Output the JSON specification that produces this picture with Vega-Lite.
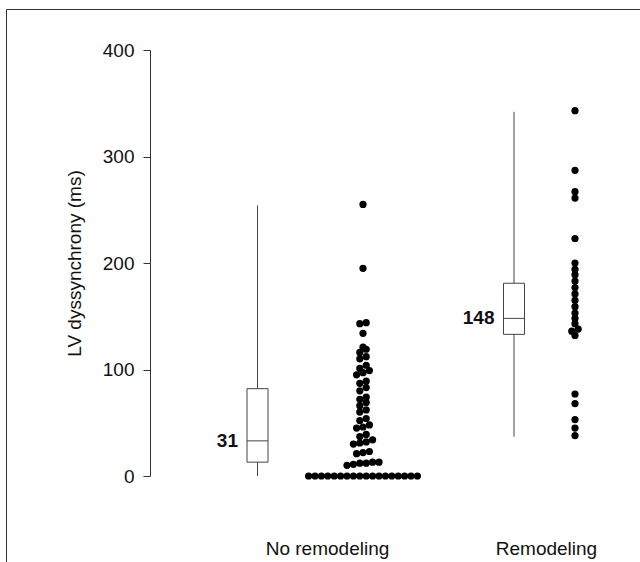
{
  "$schema": "https://vega.github.io/schema/vega-lite/v6.json",
  "width": 640,
  "height": 560,
  "autosize": "none",
  "padding": {"left": 6, "top": 9, "right": 0, "bottom": 0},
  "background": "white",
  "config": {
    "font": "Liberation Sans",
    "view": {"stroke": "#333", "strokeWidth": 1}
  },
  "datasets": {
    "dots": [
      {"group": "No remodeling", "value": 0}, {"group": "No remodeling", "value": 0}, {"group": "No remodeling", "value": 0},
      {"group": "No remodeling", "value": 0}, {"group": "No remodeling", "value": 0}, {"group": "No remodeling", "value": 0},
      {"group": "No remodeling", "value": 0}, {"group": "No remodeling", "value": 0}, {"group": "No remodeling", "value": 0},
      {"group": "No remodeling", "value": 0}, {"group": "No remodeling", "value": 0}, {"group": "No remodeling", "value": 0},
      {"group": "No remodeling", "value": 0}, {"group": "No remodeling", "value": 0}, {"group": "No remodeling", "value": 0},
      {"group": "No remodeling", "value": 0}, {"group": "No remodeling", "value": 0}, {"group": "No remodeling", "value": 0},
      {"group": "No remodeling", "value": 10}, {"group": "No remodeling", "value": 11}, {"group": "No remodeling", "value": 12},
      {"group": "No remodeling", "value": 12}, {"group": "No remodeling", "value": 13}, {"group": "No remodeling", "value": 13},
      {"group": "No remodeling", "value": 21}, {"group": "No remodeling", "value": 22}, {"group": "No remodeling", "value": 23},
      {"group": "No remodeling", "value": 30}, {"group": "No remodeling", "value": 31}, {"group": "No remodeling", "value": 32},
      {"group": "No remodeling", "value": 34}, {"group": "No remodeling", "value": 37}, {"group": "No remodeling", "value": 39},
      {"group": "No remodeling", "value": 45}, {"group": "No remodeling", "value": 46}, {"group": "No remodeling", "value": 48},
      {"group": "No remodeling", "value": 52}, {"group": "No remodeling", "value": 54}, {"group": "No remodeling", "value": 60},
      {"group": "No remodeling", "value": 62}, {"group": "No remodeling", "value": 66}, {"group": "No remodeling", "value": 69},
      {"group": "No remodeling", "value": 72}, {"group": "No remodeling", "value": 74}, {"group": "No remodeling", "value": 80},
      {"group": "No remodeling", "value": 83}, {"group": "No remodeling", "value": 87}, {"group": "No remodeling", "value": 89},
      {"group": "No remodeling", "value": 95}, {"group": "No remodeling", "value": 97}, {"group": "No remodeling", "value": 99},
      {"group": "No remodeling", "value": 101}, {"group": "No remodeling", "value": 104}, {"group": "No remodeling", "value": 110},
      {"group": "No remodeling", "value": 112}, {"group": "No remodeling", "value": 116}, {"group": "No remodeling", "value": 119},
      {"group": "No remodeling", "value": 121}, {"group": "No remodeling", "value": 134}, {"group": "No remodeling", "value": 143},
      {"group": "No remodeling", "value": 144}, {"group": "No remodeling", "value": 195}, {"group": "No remodeling", "value": 255},
      {"group": "Remodeling", "value": 343}, {"group": "Remodeling", "value": 287}, {"group": "Remodeling", "value": 267},
      {"group": "Remodeling", "value": 261}, {"group": "Remodeling", "value": 223}, {"group": "Remodeling", "value": 200},
      {"group": "Remodeling", "value": 194}, {"group": "Remodeling", "value": 189}, {"group": "Remodeling", "value": 183},
      {"group": "Remodeling", "value": 177}, {"group": "Remodeling", "value": 171}, {"group": "Remodeling", "value": 165},
      {"group": "Remodeling", "value": 159}, {"group": "Remodeling", "value": 153}, {"group": "Remodeling", "value": 148},
      {"group": "Remodeling", "value": 143}, {"group": "Remodeling", "value": 138}, {"group": "Remodeling", "value": 136},
      {"group": "Remodeling", "value": 132}, {"group": "Remodeling", "value": 77}, {"group": "Remodeling", "value": 68},
      {"group": "Remodeling", "value": 53}, {"group": "Remodeling", "value": 45}, {"group": "Remodeling", "value": 38}
    ],
    "boxes": [
      {"group": "No remodeling", "lower": 0, "q1": 13, "median": 33, "q3": 82, "upper": 254, "label": "31"},
      {"group": "Remodeling", "lower": 37, "q1": 133, "median": 148, "q3": 181, "upper": 342, "label": "148"}
    ]
  },
  "encoding": {
    "x": {
      "field": "px", "type": "quantitative",
      "scale": {"domain": [6, 646], "nice": false, "zero": false},
      "axis": {
        "orient": "bottom", "values": [327, 546],
        "labelExpr": "datum.value < 400 ? 'No remodeling' : 'Remodeling'",
        "ticks": false, "domain": false, "grid": false, "title": null,
        "labelFontSize": 19, "labelPadding": 2, "offset": -32, "labelColor": "#111",
        "labelFlush": false, "labelOverlap": false
      }
    },
    "y": {
      "field": "v", "type": "quantitative",
      "scale": {"domain": [0, 400], "range": [467, 41], "nice": false, "zero": false},
      "axis": {
        "values": [0, 100, 200, 300, 400], "grid": false, "offset": -144,
        "tickSize": 7, "tickColor": "#333", "domainColor": "#333",
        "labelFontSize": 19, "labelColor": "#111", "labelPadding": 9,
        "title": "LV dyssynchrony (ms)", "titleFontSize": 19, "titleFontWeight": "normal",
        "titleColor": "#111", "titlePadding": 18
      }
    }
  },
  "layer": [
    {
      "data": {"name": "boxes"},
      "transform": [
        {"calculate": "datum.group == 'No remodeling' ? 257.5 : 514", "as": "px"},
        {"calculate": "datum.lower", "as": "v"}
      ],
      "mark": {"type": "rule", "color": "#444", "strokeWidth": 1},
      "encoding": {"y2": {"field": "upper"}}
    },
    {
      "data": {"name": "boxes"},
      "transform": [
        {"calculate": "(datum.group == 'No remodeling' ? 257.5 : 514) - 10.5", "as": "px"},
        {"calculate": "(datum.group == 'No remodeling' ? 257.5 : 514) + 10.5", "as": "px2"},
        {"calculate": "datum.q1", "as": "v"}
      ],
      "mark": {"type": "rect", "fill": "white", "stroke": "#444", "strokeWidth": 1},
      "encoding": {"x2": {"field": "px2"}, "y2": {"field": "q3"}}
    },
    {
      "data": {"name": "boxes"},
      "transform": [
        {"calculate": "(datum.group == 'No remodeling' ? 257.5 : 514) - 10.5", "as": "px"},
        {"calculate": "(datum.group == 'No remodeling' ? 257.5 : 514) + 10.5", "as": "px2"},
        {"calculate": "datum.median", "as": "v"}
      ],
      "mark": {"type": "rule", "color": "#444", "strokeWidth": 1},
      "encoding": {"x2": {"field": "px2"}}
    },
    {
      "data": {"name": "boxes"},
      "transform": [
        {"calculate": "(datum.group == 'No remodeling' ? 257.5 : 514) - 19.5", "as": "px"},
        {"calculate": "datum.median", "as": "v"}
      ],
      "mark": {"type": "text", "align": "right", "baseline": "middle", "fontSize": 19, "fontWeight": "bold", "color": "#111"},
      "encoding": {"text": {"field": "label"}}
    },
    {
      "data": {"name": "dots"},
      "transform": [
        {"calculate": "floor(datum.value / 5)", "as": "bin"},
        {"window": [{"op": "row_number", "as": "rank"}], "groupby": ["group", "bin"], "sort": [{"field": "value", "order": "ascending"}]},
        {"joinaggregate": [{"op": "count", "as": "n"}], "groupby": ["group", "bin"]},
        {"calculate": "(datum.group == 'No remodeling' ? 363 : 575) + (datum.rank - (datum.n + 1) / 2) * 6.4", "as": "px"},
        {"calculate": "datum.value", "as": "v"}
      ],
      "mark": {"type": "circle", "size": 52, "color": "black", "opacity": 1}
    }
  ]
}
